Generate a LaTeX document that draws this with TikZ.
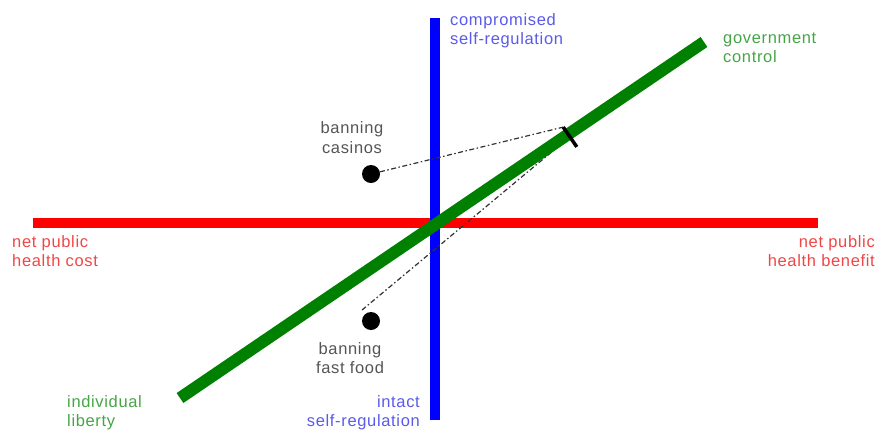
\documentclass[tikz,border=0pt]{standalone}
\usepackage{fontspec}
\setmainfont{Liberation Sans}[LetterSpace=4]
\definecolor{axred}{RGB}{255,0,0}
\definecolor{axblue}{RGB}{0,0,255}
\definecolor{axgreen}{RGB}{0,128,0}
\definecolor{txred}{RGB}{240,70,70}
\definecolor{txblue}{RGB}{90,90,235}
\definecolor{txgreen}{RGB}{70,165,70}
\definecolor{txgray}{RGB}{85,85,85}
\tikzset{
  lbl/.style={inner sep=0pt, font=\fontsize{16.5}{19}\selectfont},
  axis/.style={line cap=butt},
  dd/.style={line width=1.2pt, black!80, dash pattern=on 5pt off 2.5pt on 1.5pt off 2.5pt},
  dot/.style={circle, fill=black, inner sep=0pt, minimum size=18pt},
}
\begin{document}
\begin{tikzpicture}[x=1pt,y=-1pt]
\useasboundingbox (0,0) rectangle (877,432);
% endpoints
\coordinate (rl) at (33,223);
\coordinate (rr) at (818,223);
\coordinate (bt) at (435,18);
\coordinate (bb) at (435,420);
\coordinate (gl) at (180,398);
\coordinate (gr) at (704,42);
\coordinate (t1) at (563.2,127.1);
\coordinate (t2) at (576.8,146.9);
\coordinate (e2) at (560,145);
\coordinate (s2) at (362,310);
% axes
\draw[axis, axred, line width=10pt] (rl) -- (rr);
\draw[axis, axblue, line width=10pt] (bt) -- (bb);
% dots
\node[dot] (casino) at (371,174) {};
\node[dot] (fastfood) at (371,321) {};
% dash-dot connectors
\draw[dd] (casino) -- (t1);
\draw[dd] (s2) -- (e2);
% green axis and tick
\draw[axis, axgreen, line width=12pt] (gl) -- (gr);
\draw[black, line width=3.5pt] (t1) -- (t2);
% labels
\node[lbl, txblue, anchor=base west] (cs1) at (450,25) {compromised};
\node[lbl, txblue, anchor=base west] (cs2) at (450,44) {self-regulation};
\node[lbl, txgreen, anchor=base west] (gc1) at (723,43) {government};
\node[lbl, txgreen, anchor=base west] (gc2) at (723,62) {control};
\node[lbl, txred, anchor=base west] (hc1) at (12,247) {net public};
\node[lbl, txred, anchor=base west] (hc2) at (12,266) {health cost};
\node[lbl, txred, anchor=base east] (hb1) at (875,247) {net public};
\node[lbl, txred, anchor=base east] (hb2) at (875,266) {health benefit};
\node[lbl, txgreen, anchor=base west] (il1) at (67,407) {individual};
\node[lbl, txgreen, anchor=base west] (il2) at (67,426) {liberty};
\node[lbl, txblue, anchor=base east] (is1) at (420,407) {intact};
\node[lbl, txblue, anchor=base east] (is2) at (420,426) {self-regulation};
\node[lbl, txgray, anchor=base] (bc1) at (352,133) {banning};
\node[lbl, txgray, anchor=base] (bc2) at (352,153) {casinos};
\node[lbl, txgray, anchor=base] (bf1) at (350,354) {banning};
\node[lbl, txgray, anchor=base] (bf2) at (350,373) {fast food};
\end{tikzpicture}
\end{document}
